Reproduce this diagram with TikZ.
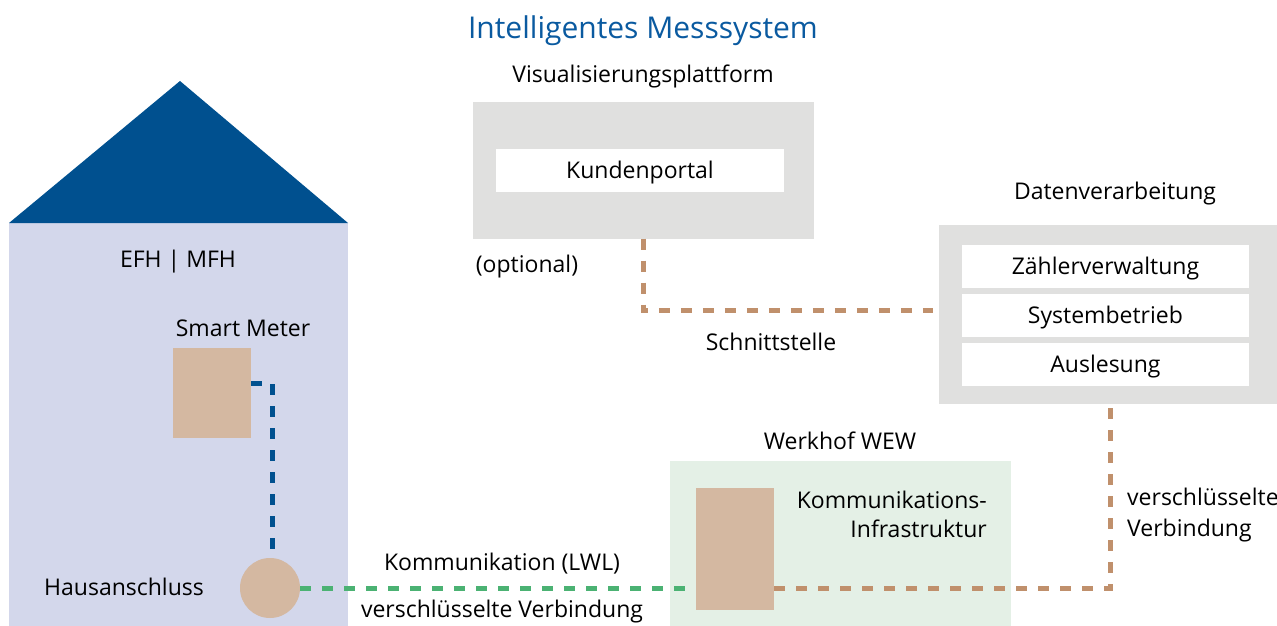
\documentclass[tikz,border=0pt]{standalone}
\usepackage{fontspec}
\setmainfont{Open Sans}
\definecolor{roof}{HTML}{00508F}
\definecolor{lav}{HTML}{D3D7EB}
\definecolor{tan}{HTML}{D4B8A1}
\definecolor{brownd}{HTML}{C0906C}
\definecolor{greend}{HTML}{4BB273}
\definecolor{blued}{HTML}{00508F}
\definecolor{grayb}{HTML}{E0E0DF}
\definecolor{werk}{HTML}{E4F0E6}
\definecolor{titleblue}{HTML}{0A5AA0}
\tikzset{
  area/.style={inner sep=0pt, outer sep=0pt, anchor=north west, draw=none},
  lbl/.style={inner sep=0pt, font=\fontsize{23}{28}\selectfont, text=black},
  dashline/.style={line width=5pt, dash pattern=on 11pt off 11pt},
}
\begin{document}
\begin{tikzpicture}[x=1pt,y=-1pt]
\useasboundingbox (0,0) rectangle (1277,626);
% house
\node[area, fill=lav, minimum width=339pt, minimum height=404pt] (body) at (9,222.5) {};
\fill[roof] (9,223) -- (180,81) -- (348,223) -- cycle;
\node[lbl] (efh) at (178,262) {EFH | MFH};
\node[lbl] (smlbl) at (243,328) {Smart Meter};
\node[area, fill=tan, minimum width=78pt, minimum height=90pt] (sm) at (173,348) {};
\node[circle, fill=tan, minimum size=60pt, inner sep=0pt, outer sep=0pt] (ha) at (270,588) {};
\node[lbl] (halbl) at (124,587) {Hausanschluss};
% title
\node[inner sep=0pt, font=\fontsize{30}{36}\selectfont, text=titleblue] (title) at (643,31) {Intelligentes Messsystem};
% Visualisierung
\node[lbl] (vplbl) at (643,76) {Visualisierungsplattform};
\node[area, fill=grayb, minimum width=341pt, minimum height=137pt] (vp) at (472.7,101.7) {};
\node[area, fill=white, minimum width=288pt, minimum height=43pt] (kp) at (496,149) {};
\node[lbl, yshift=-2.5pt] at (kp.center) {Kundenportal};
\node[lbl] (opt) at (527,267) {(optional)};
% Datenverarbeitung
\node[lbl] (dvlbl) at (1115,194) {Datenverarbeitung};
\node[area, fill=grayb, minimum width=338pt, minimum height=179.5pt] (dv) at (939,224.7) {};
\node[area, fill=white, minimum width=287.5pt, minimum height=42.5pt] (zv) at (961.7,245) {};
\node[area, fill=white, minimum width=287.5pt, minimum height=42.5pt] (sb) at (961.7,294) {};
\node[area, fill=white, minimum width=287.5pt, minimum height=42.5pt] (al) at (961.7,343) {};
\node[lbl, yshift=-2pt] at (zv.center) {Zählerverwaltung};
\node[lbl, yshift=-2pt] at (sb.center) {Systembetrieb};
\node[lbl, yshift=-2pt] at (al.center) {Auslesung};
\node[lbl] (sst) at (771,342) {Schnittstelle};
% Werkhof
\node[lbl] (wlbl) at (840,441) {Werkhof WEW};
\node[area, fill=werk, minimum width=341pt, minimum height=165pt] (wh) at (670,461) {};
\node[area, fill=tan, minimum width=78pt, minimum height=122pt] (ki) at (696,488) {};
\node[lbl, anchor=north east, align=right, font=\fontsize{23}{28.5}\selectfont] (kilbl) at (987,491) {Kommunikations-\\Infrastruktur};
\node[lbl, anchor=north west, align=left, font=\fontsize{23}{31}\selectfont] (vvr) at (1127,488) {verschlüsselte\\Verbindung};
\node[lbl] (lwl) at (502,564) {Kommunikation (LWL)};
\node[lbl] (vv) at (502,612) {verschlüsselte Verbindung};
% connectors
\draw[dashline, blued] ([yshift=9.5pt]sm.east) -| ([xshift=2.5pt,yshift=6pt]ha.north);
\draw[dashline, greend] (ha.east) -- (ha.east -| ki.west);
\draw[dashline, brownd] (ha.east -| ki.east) -| ([xshift=2.5pt,yshift=-4pt]dv.south);
\draw[dashline, brownd] (vp.south) |- ([xshift=-6pt,yshift=3.5pt]dv.west);
\end{tikzpicture}
\end{document}
